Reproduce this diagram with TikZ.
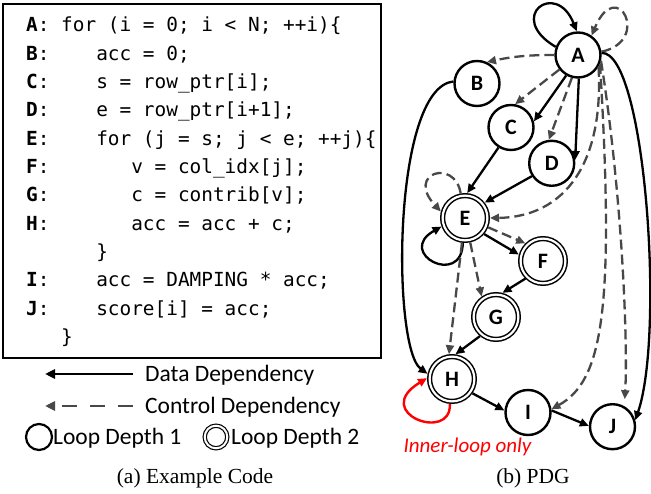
\documentclass[tikz,border=0pt]{standalone}
\usepackage{fontspec}
\setmainfont{Liberation Serif}
\newfontfamily\calib{Carlito}
\newfontfamily\codefont{DejaVu Sans Mono}
\usetikzlibrary{arrows.meta}
\definecolor{ctrlgray}{RGB}{72,72,72}
\definecolor{loopred}{RGB}{255,0,0}
\begin{document}
\begin{tikzpicture}[x=1pt,y=1pt,
  nd/.style={circle, draw, line width=2.4pt, minimum size=45pt, inner sep=0pt, outer sep=1.2pt,
    font=\calib\bfseries\fontsize{22}{26}\selectfont},
  dnd/.style={circle, draw, line width=1.5pt, double=white, double distance=2.2pt, minimum size=44.8pt,
    inner sep=0pt, outer sep=2.6pt, font=\calib\bfseries\fontsize{22}{26}\selectfont},
  data/.style={line width=2.3pt, -{Triangle[length=9pt,width=8pt]}},
  ctrl/.style={line width=2.3pt, draw=ctrlgray, dash pattern=on 10pt off 5pt,
    -{Triangle[length=9pt,width=8pt]}},
  codeline/.style={anchor=base west, inner sep=0pt, font=\codefont\fontsize{19.4}{23}\selectfont\frenchspacing},
  legtext/.style={anchor=base west, inner sep=0pt, font=\calib\fontsize{23.5}{27}\selectfont},
  caption/.style={anchor=base, inner sep=0pt, font=\fontsize{21.5}{25}\selectfont},
]
\useasboundingbox (0,0) rectangle (651,493);

% ---------- code box ----------
\draw[line width=1.8pt] (3,489) rectangle (381,135);
\node[codeline] (l0)  at (26,461.3) {\textbf{A}: for (i = 0; i < N; ++i)\{};
\node[codeline] (l1)  at (26,432.95) {\textbf{B}:~~~~acc = 0;};
\node[codeline] (l2)  at (26,404.6) {\textbf{C}:~~~~s = row\_ptr[i];};
\node[codeline] (l3)  at (26,376.25) {\textbf{D}:~~~~e = row\_ptr[i+1];};
\node[codeline] (l4)  at (26,347.9) {\textbf{E}:~~~~for (j = s; j < e; ++j)\{};
\node[codeline] (l5)  at (26,319.55) {\textbf{F}:~~~~~~~v = col\_idx[j];};
\node[codeline] (l6)  at (26,291.2) {\textbf{G}:~~~~~~~c = contrib[v];};
\node[codeline] (l7)  at (26,262.85) {\textbf{H}:~~~~~~~acc = acc + c;};
\node[codeline] (l8)  at (26,234.5) {~~~~~~\}};
\node[codeline] (l9)  at (26,206.15) {\textbf{I}:~~~~acc = DAMPING * acc;};
\node[codeline] (l10) at (26,177.8) {\textbf{J}:~~~~score[i] = acc;};
\node[codeline] (l11) at (26,149.45) {~~~\}};

% ---------- legend ----------
\coordinate (d1) at (133,119);
\coordinate (d2) at (45,119);
\draw[line width=2.8pt, -{Triangle[length=10pt,width=9pt]}] (d1) -- (d2);
\node[legtext] (dtext) at (145,111.5) {Data Dependency};
\coordinate (c1) at (133,87);
\coordinate (c2) at (45,87);
\draw[line width=2.8pt, draw=ctrlgray, dash pattern=on 15pt off 13pt,
  -{Triangle[length=10pt,width=9pt]}] (c1) -- (c2);
\node[legtext] (ctext) at (145,79.5) {Control Dependency};
\node[circle, draw, line width=2.2pt, minimum size=26pt, inner sep=0pt] (lc1) at (39,56) {};
\node[legtext] (l1text) at (53,48.5) {Loop Depth 1};
\node[circle, draw, line width=1.2pt, double=white, double distance=2pt, minimum size=22.6pt, inner sep=0pt] (lc2) at (216,56) {};
\node[legtext] (l2text) at (231,48.5) {Loop Depth 2};

\node[caption] (capa) at (195,9.5) {(a) Example Code};
\node[caption] (capb) at (533,9.5) {(b) PDG};

% ---------- PDG nodes ----------
\node[nd]  (A) at (578,438)   {A};
\node[nd]  (B) at (477,409.5) {B};
\node[nd]  (C) at (511,365.5) {C};
\node[nd]  (D) at (551.7,329.7) {D};
\node[dnd] (E) at (465,275)   {E};
\node[dnd] (F) at (543,232)   {F};
\node[dnd] (G) at (496,176)   {G};
\node[dnd] (H) at (452,114)   {H};
\node[nd]  (I) at (528,80.5)  {I};
\node[nd]  (J) at (612.5,66.3) {J};

% ---------- edges ----------
\draw[data] (A.160) .. controls (505,476) and (556,514) .. (A.93);
\draw[ctrl] (A.8) .. controls (652,452) and (617,518) .. (A.55);
\draw[ctrl] (A.180) to[bend right=6] (B.65);
\draw[ctrl] (A.218) -- (C.80);
\draw[data] (A.240) -- (C.15);
\draw[ctrl] (A.255) -- (D.97);
\draw[data] (A.272) -- (D.8);
\draw[ctrl] (A.-30) .. controls (604,330) and (565,276) .. (E.0);
\draw[ctrl] (A.-22) .. controls (615,180) and (602,112) .. (I.8);
\draw[ctrl, shorten >=7pt] (A.-14) .. controls (622,300) and (628,150) .. (J.60);
\draw[data] (A.5) .. controls (645,442) and (665,160) .. (J.16);
\draw[data] (B.175) .. controls (392,405) and (392,145) .. (H.168);
\draw[data] (C.238) -- (E.85);
\draw[data] (D.213) -- (E.38);
\draw[ctrl] (E.100) .. controls (455,335) and (405,320) .. (E.165);
\draw[data] (E.265) .. controls (462,205) and (395,240) .. (E.200);
\draw[data] (E.-40) -- (F.165);
\draw[ctrl] (E.-22) -- (F.135);
\draw[ctrl] (E.-78) -- (G.125);
\draw[ctrl] (E.-97) -- (H.97);
\draw[data] (F.225) -- (G.75);
\draw[data] (G.230) -- (H.82);
\draw[line width=2.4pt, draw=loopred, -{Triangle[length=9pt,width=8pt]}]
  (H.265) .. controls (452,50) and (370,80) .. (H.178);
\draw[data] (H.-35) -- (I.175);
\draw[data] (I.5) -- (J.178);

\node[inner sep=0pt, text=loopred, font=\calib\itshape\fontsize{21}{25}\selectfont] (inner) at (467.5,46) {Inner-loop only};
\end{tikzpicture}
\end{document}
